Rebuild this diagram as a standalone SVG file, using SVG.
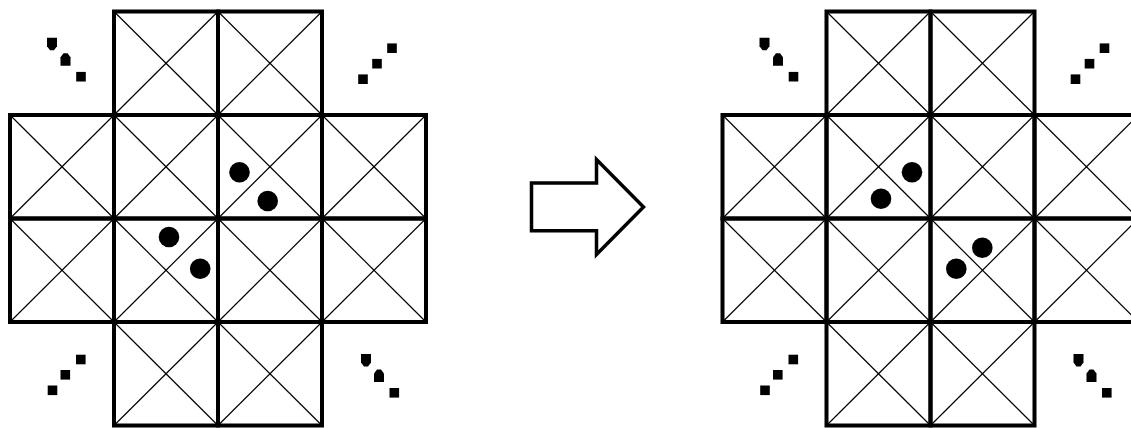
<svg xmlns="http://www.w3.org/2000/svg" xmlns:xlink="http://www.w3.org/1999/xlink" width="1131" height="428" viewBox="0 0 1131 428">
  <style>
    .frame { fill: none; stroke: #000; stroke-width: 4; stroke-linejoin: miter; }
    .diag { stroke: #000; stroke-width: 1.2; }
    .mark { fill: #000; }
    .stone { fill: #000; }
    .arrow { fill: #fff; stroke: #000; stroke-width: 3.5; stroke-linejoin: miter; }
  </style>
  <defs>
    <g id="cell">
      <line class="diag" x1="0" y1="0" x2="104" y2="103.5"/>
      <line class="diag" x1="104" y1="0" x2="0" y2="103.5"/>
      <rect class="frame" x="0" y="0" width="104" height="103.5"/>
    </g>
    <path id="shield" class="mark" d="M-5,-6 H5 V2.5 L2,6.5 H-2 L-5,2.5 Z"/>
    <path id="cap" class="mark" d="M-5,6 H5 V-2.5 L2,-6.5 H-2 L-5,-2.5 Z"/>
    <rect id="sq" class="mark" x="-4.8" y="-4.8" width="9.6" height="9.6"/>
    <g id="board">
      <use xlink:href="#cell" x="114" y="11.5"/>
      <use xlink:href="#cell" x="218" y="11.5"/>
      <use xlink:href="#cell" x="10" y="115"/>
      <use xlink:href="#cell" x="114" y="115"/>
      <use xlink:href="#cell" x="218" y="115"/>
      <use xlink:href="#cell" x="322" y="115"/>
      <use xlink:href="#cell" x="10" y="218.5"/>
      <use xlink:href="#cell" x="114" y="218.5"/>
      <use xlink:href="#cell" x="218" y="218.5"/>
      <use xlink:href="#cell" x="322" y="218.5"/>
      <use xlink:href="#cell" x="114" y="322"/>
      <use xlink:href="#cell" x="218" y="322"/>
      <!-- corner marks -->
      <use xlink:href="#shield" x="52" y="43.8"/>
      <use xlink:href="#cap" x="65.5" y="59.7"/>
      <use xlink:href="#sq" x="81" y="76.7"/>
      <use xlink:href="#sq" x="392" y="48.2"/>
      <use xlink:href="#sq" x="377" y="63.7"/>
      <use xlink:href="#sq" x="363" y="79.2"/>
      <use xlink:href="#sq" x="80.8" y="359.5"/>
      <use xlink:href="#sq" x="65.3" y="374.8"/>
      <use xlink:href="#sq" x="52.5" y="390.3"/>
      <use xlink:href="#shield" x="366" y="360"/>
      <use xlink:href="#cap" x="379" y="376"/>
      <use xlink:href="#sq" x="394.3" y="392.8"/>
    </g>
  </defs>
  <rect x="0" y="0" width="1131" height="428" fill="#fff"/>

  <g id="board-before">
    <use xlink:href="#board"/>
    <circle class="stone" cx="239.5" cy="172.3" r="10.3"/>
    <circle class="stone" cx="267.7" cy="201" r="10.3"/>
    <circle class="stone" cx="169" cy="237" r="10.3"/>
    <circle class="stone" cx="200.2" cy="268.7" r="10.3"/>
  </g>

  <g id="connectors">
    <polygon id="arrow" class="arrow" points="531.5,183 596.5,183 596.5,159.5 643.5,207 596.5,254.5 596.5,230.7 531.5,230.7"/>
  </g>

  <g id="board-after">
    <use xlink:href="#board" x="712.5" y="0"/>
    <circle class="stone" cx="912" cy="172.3" r="10.3"/>
    <circle class="stone" cx="881" cy="198.7" r="10.3"/>
    <circle class="stone" cx="982.3" cy="247.7" r="10.3"/>
    <circle class="stone" cx="956.3" cy="268.7" r="10.3"/>
  </g>
</svg>
